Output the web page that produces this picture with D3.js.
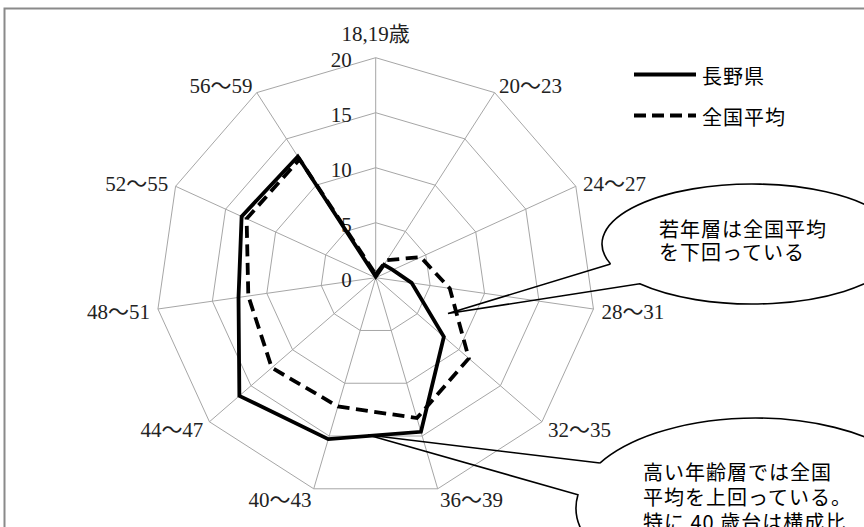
<!DOCTYPE html>
<html>
<head>
<meta charset="utf-8">
<script src="https://cdn.jsdelivr.net/npm/d3@7"></script>
<style>
  html, body { margin: 0; padding: 0; background: #fff; }
  svg { display: block; }
</style>
</head>
<body>
<svg id="chart" width="864" height="527"></svg>
<script>
// Age groups (axes of the radar), clockwise from the top
const categories = ["18,19歳", "20〜23", "24〜27", "28〜31", "32〜35", "36〜39",
                    "40〜43", "44〜47", "48〜51", "52〜55", "56〜59"];
// Composition ratio (%) per age group
const naganoValues   = [0.1, 1.4, 1.7, 3.3, 8.2, 14.6, 15.3, 16.4, 12.6, 13.4, 13.1];
const nationalValues = [0.3, 1.9, 4.5, 6.8, 11.2, 13.3, 12.2, 12.5, 11.7, 12.9, 12.8];
const seriesNames = ["長野県", "全国平均"];
const tickValues = [0, 5, 10, 15, 20];
const calloutYoung = ["若年層は全国平均", "を下回っている"];
const calloutOld = ["高い年齢層では全国", "平均を上回っている。", "特に 40 歳台は構成比"];

const svg = d3.select("#chart");
const serif = "'Liberation Serif', 'Noto Sans CJK JP', serif";
const sans = "'Noto Sans CJK JP', sans-serif";

// outer frame
svg.append("rect")
  .attr("x", 4.5).attr("y", 8.5).attr("width", 950).attr("height", 600)
  .attr("fill", "#fff").attr("stroke", "#8a8a8a").attr("stroke-width", 2);

const cx = 375.7, cy = 277.7;
const r = d3.scaleLinear().domain([0, 20]).range([0, 220]);
const angle = d3.scaleLinear().domain([0, categories.length]).range([0, 2 * Math.PI]);
const pt = (i, v) => [cx + r(v) * Math.sin(angle(i)), cy - r(v) * Math.cos(angle(i))];

const g = svg.append("g");

// grid rings
tickValues.filter(t => t > 0).forEach(t => {
  g.append("path")
    .attr("d", d3.line()(categories.map((_, i) => pt(i, t))) + "Z")
    .attr("fill", "none").attr("stroke", "#a6a6a6").attr("stroke-width", 1);
});
// spokes
categories.forEach((_, i) => {
  const [x, y] = pt(i, 20);
  g.append("line").attr("x1", cx).attr("y1", cy).attr("x2", x).attr("y2", y)
    .attr("stroke", "#a6a6a6").attr("stroke-width", 1);
});

// value ticks along the top spoke
tickValues.forEach(t => {
  g.append("text")
    .attr("x", cx - 24).attr("y", cy - r(t) + 2)
    .attr("text-anchor", "end").attr("dominant-baseline", "central")
    .attr("font-family", serif).attr("font-size", 21).attr("fill", "#222")
    .text(t);
});

// category labels
categories.forEach((c, i) => {
  const a = angle(i), s = Math.sin(a), co = Math.cos(a);
  const [vx, vy] = pt(i, 20);
  let x = vx + 8 * s, y = vy - 10 * co + 1.5;
  let anchor = s > 0.01 ? "start" : (s < -0.01 ? "end" : "middle");
  if (i === 0) { x = vx; y = vy - 24; }
  g.append("text")
    .attr("x", x).attr("y", y)
    .attr("text-anchor", anchor).attr("dominant-baseline", "central")
    .attr("font-family", serif).attr("font-size", 21).attr("fill", "#222")
    .text(c);
});

// series
const radial = d3.lineRadial()
  .angle((d, i) => angle(i))
  .radius(d => r(d))
  .curve(d3.curveLinearClosed);

const plot = g.append("g").attr("transform", `translate(${cx},${cy})`);
plot.append("path").datum(naganoValues)
  .attr("d", radial).attr("fill", "none")
  .attr("stroke", "#000").attr("stroke-width", 3.8).attr("stroke-linejoin", "miter");
plot.append("path").datum(nationalValues)
  .attr("d", radial).attr("fill", "none")
  .attr("stroke", "#000").attr("stroke-width", 3.8)
  .attr("stroke-dasharray", "12,6.5");

// legend
const legend = svg.append("g");
[[74.6, null], [115.5, "12,6"]].forEach(([y, dash], k) => {
  legend.append("line").attr("x1", 634).attr("x2", 696).attr("y1", y).attr("y2", y)
    .attr("stroke", "#000").attr("stroke-width", 4)
    .attr("stroke-dasharray", dash);
  legend.append("text").attr("x", 702).attr("y", y + 1)
    .attr("dominant-baseline", "central")
    .attr("font-family", sans).attr("font-size", 20).attr("letter-spacing", 1)
    .attr("fill", "#000").text(seriesNames[k]);
});

// oval callouts with pointer
function callout(e, tip, a, b, lines, tx, ty, lh) {
  const onE = ([x, y]) => {
    const t = Math.atan2((y - e.cy) / e.ry, (x - e.cx) / e.rx);
    return [e.cx + e.rx * Math.cos(t), e.cy + e.ry * Math.sin(t)];
  };
  const A = onE(a), B = onE(b);
  const grp = svg.append("g");
  grp.append("ellipse").attr("cx", e.cx).attr("cy", e.cy).attr("rx", e.rx).attr("ry", e.ry)
    .attr("fill", "#fff").attr("stroke", "none");
  grp.append("path")
    .attr("d", `M${A[0]},${A[1]}L${tip[0]},${tip[1]}L${B[0]},${B[1]}` +
               `A${e.rx},${e.ry} 0 1 0 ${A[0]},${A[1]}`)
    .attr("fill", "none").attr("stroke", "#000").attr("stroke-width", 1.6)
    .attr("stroke-linejoin", "miter");
  const txt = grp.append("text")
    .attr("font-family", sans).attr("font-size", 20).attr("letter-spacing", 1)
    .attr("fill", "#000");
  lines.forEach((l, j) => {
    txt.append("tspan").attr("x", tx).attr("y", ty + j * lh)
      .attr("dominant-baseline", "central").text(l);
  });
}

callout({cx: 752, cy: 244, rx: 150, ry: 60}, [448, 313.5], [608.3, 264.3], [638.3, 284.3],
        calloutYoung, 659, 228, 23.7);
callout({cx: 755, cy: 508, rx: 179, ry: 90}, [368, 435], [601.7, 463.6], [578.5, 494.8],
        calloutOld, 643, 471.7, 25);
</script>
</body>
</html>
